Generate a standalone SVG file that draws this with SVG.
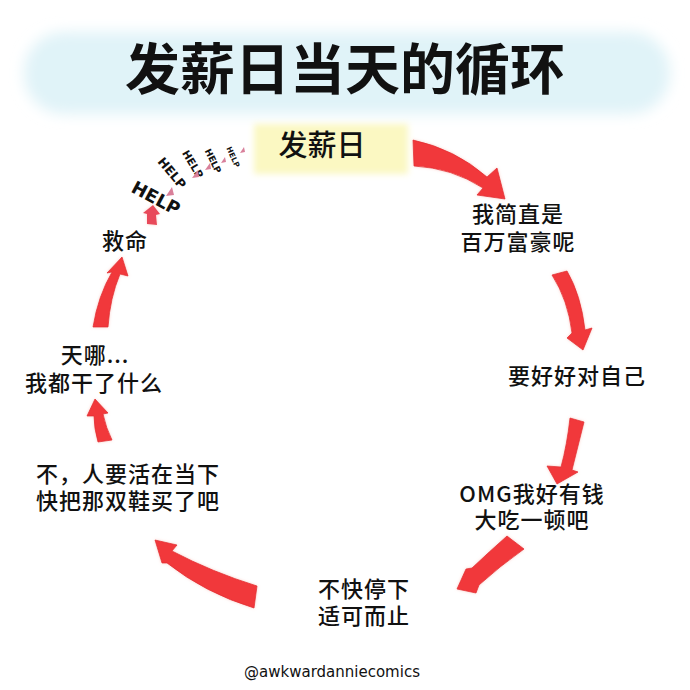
<svg xmlns="http://www.w3.org/2000/svg" width="690" height="690" viewBox="0 0 690 690">
<defs>
<filter id="blurBig" x="-10%" y="-30%" width="120%" height="160%"><feGaussianBlur stdDeviation="7"/></filter>
<filter id="blurSm" x="-10%" y="-30%" width="120%" height="160%"><feGaussianBlur stdDeviation="3"/></filter>
<filter id="glow" x="-20%" y="-20%" width="140%" height="140%"><feGaussianBlur in="SourceAlpha" stdDeviation="1.5" result="b"/><feFlood flood-color="#f7b0a8" flood-opacity="0.6"/><feComposite in2="b" operator="in" result="s"/><feMerge><feMergeNode in="s"/><feMergeNode in="SourceGraphic"/></feMerge></filter>
</defs>
<style>
.t{font-family:"Noto Sans CJK SC","Noto Sans",sans-serif;fill:#111;}
.lbl{font-size:22px;font-weight:500;letter-spacing:1px;text-anchor:middle;}
.arr{fill:#f1373b;stroke:#e32d33;stroke-width:0.8;stroke-linejoin:round;}
.help{font-family:"DejaVu Sans",sans-serif;font-weight:bold;fill:#111;text-anchor:middle;dominant-baseline:central;}
.pk{fill:#d9809a;}
</style>
<rect width="690" height="690" fill="#ffffff"/>

<g id="title">
<rect x="24" y="32" width="646" height="82" rx="40" fill="#e0f3f8" filter="url(#blurBig)"/>
<text class="t" x="345" y="89" font-size="55" font-weight="bold" text-anchor="middle">发薪日当天的循环</text>
</g>

<g id="node-payday">
<rect x="254" y="124" width="154" height="50" fill="#fbf8c2" filter="url(#blurSm)"/>
<text class="t" x="322" y="156" font-size="29" font-weight="500" text-anchor="middle">发薪日</text>
</g>

<g id="node-rich"><text class="t lbl"><tspan x="518" y="222">我简直是</tspan><tspan x="518" y="250">百万富豪呢</tspan></text></g>
<g id="node-treat"><text class="t lbl" x="577" y="384">要好好对自己</text></g>
<g id="node-omg"><text class="t lbl"><tspan x="532" y="502">OMG我好有钱</tspan><tspan x="532" y="528">大吃一顿吧</tspan></text></g>
<g id="node-stop"><text class="t lbl"><tspan x="364" y="597">不快停下</tspan><tspan x="364" y="624">适可而止</tspan></text></g>
<g id="node-live"><text class="t lbl"><tspan x="128" y="482">不，人要活在当下</tspan><tspan x="128" y="509">快把那双鞋买了吧</tspan></text></g>
<g id="node-omg2"><text class="t lbl"><tspan x="95" y="363">天哪...</tspan><tspan x="94" y="391">我都干了什么</tspan></text></g>
<g id="node-help"><text class="t lbl" x="125" y="249">救命</text></g>

<g id="connectors" filter="url(#glow)">
<path class="arr" d="M413,140 Q455,149 487,177 L497,168 L505,199 L477,195 L483,188 Q452,168 414,166 Z"/>
<path class="arr" d="M552,275 Q568,300 572,333 L567,338 L583,350 L592,328 L585,330 Q581,295 567,271 Z"/>
<path class="arr" d="M570,418 Q567,445 561,467 L547,466 L557,484 L578,472 L572,470 Q578,446 584,422 Z"/>
<path class="arr" d="M507,536 Q490,551 472,568 L466,569 L457,589 L476,593 L479,585 Q500,566 524,549 Z"/>
<path class="arr" d="M155,540 L177,545 L172,551 Q212,572 257,586 L254,608 Q205,593 167,563 L162,563 Z"/>
<path class="arr" d="M95,399 L108,413 L103,414 Q106,428 112,440 L98,442 Q94,428 94,416 L87,416 Z"/>
<path class="arr" d="M122,257 L128,276 L120,274 Q110,298 108,327 L93,327 Q98,296 112,272 L107,273 Z"/>
<path fill="#e84a5a" d="M153,205 L160,214 L156,215 L157,225 L147,224 L147,214 L143,213 Z"/>
</g>

<g id="help-trail">
<text class="help" font-size="18" transform="translate(156,198) rotate(28)">HELP</text>
<text class="help" font-size="12.5" transform="translate(172,173) rotate(50)">HELP</text>
<text class="help" font-size="10.5" transform="translate(193,164) rotate(59)">HELP</text>
<text class="help" font-size="9" transform="translate(213,161) rotate(64)">HELP</text>
<text class="help" font-size="7.5" transform="translate(233,157) rotate(66)">HELP</text>
<path class="pk" d="M166,196 L172,187 L174,195 Z"/>
<path class="pk" d="M192,178 L198,170 L199,177 Z"/>
<path class="pk" d="M205,170 L210,163 L211,169 Z"/>
<path class="pk" d="M221,163 L225,157 L226,162 Z"/>
<path class="pk" d="M240,153 L244,147 L245,152 Z"/>
</g>

<g id="credit"><text x="332" y="677" font-family="DejaVu Sans, sans-serif" font-size="15" fill="#111" text-anchor="middle">@awkwardanniecomics</text></g>
</svg>
